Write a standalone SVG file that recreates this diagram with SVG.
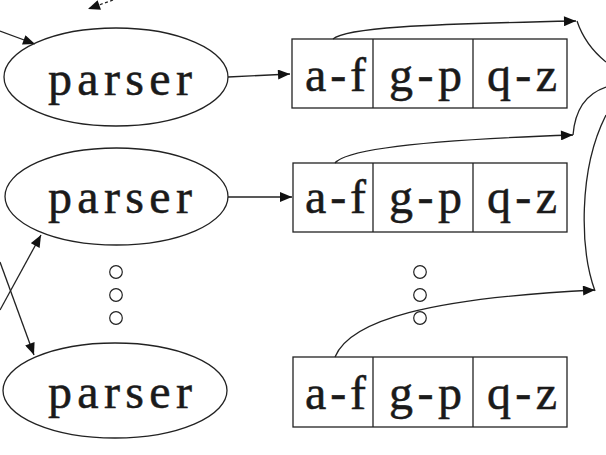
<svg xmlns="http://www.w3.org/2000/svg" width="606" height="455" viewBox="0 0 606 455">
<style>
.ln{fill:none;stroke:#222;stroke-width:1.3}
.sh{fill:none;stroke:#222;stroke-width:1.3}
.t{font-family:"Liberation Serif","Times New Roman",serif;font-size:48px;fill:#1a1a1a;stroke:#1a1a1a;stroke-width:0.5}
.dot{fill:#fff;stroke:#222;stroke-width:1.2}
</style>
<defs>
<marker id="ah" viewBox="0 0 12 10" refX="12" refY="5" markerWidth="13" markerHeight="10" markerUnits="userSpaceOnUse" orient="auto">
<path d="M0,0 L12,5 L0,10 z" fill="#111"/>
</marker>
</defs>
<g id="connectors">
<path class="ln" d="M0,31 L35,44" marker-end="url(#ah)"/>
<path class="ln" d="M113,0 L88,9" stroke-dasharray="3,2.5" marker-end="url(#ah)"/>
<path class="ln" d="M228,77 L290,74" marker-end="url(#ah)"/>
<path class="ln" d="M228,197 L292,197" marker-end="url(#ah)"/>
<path class="ln" d="M0,310 L41,235" marker-end="url(#ah)"/>
<path class="ln" d="M0,262 L34,355" marker-end="url(#ah)"/>
<path class="ln" d="M333,39 C345,28 420,24 576,21" marker-end="url(#ah)"/>
<path class="ln" d="M335,163 C345,150 420,140 573,135" marker-end="url(#ah)"/>
<path class="ln" d="M335,357 C350,320 430,298 595,290" marker-end="url(#ah)"/>
<path class="ln" d="M577,21 Q585,45 606,62"/>
<path class="ln" d="M573,135 Q576,97 606,87"/>
<path class="ln" d="M595,291 C580,250 578,170 606,115"/>
</g>
<g id="dots-left">
<circle class="dot" cx="116" cy="272" r="6.3"/>
<circle class="dot" cx="116" cy="295" r="6.3"/>
<circle class="dot" cx="116" cy="318" r="6.3"/>
</g>
<g id="dots-right">
<circle class="dot" cx="420" cy="272" r="6.3"/>
<circle class="dot" cx="420" cy="295" r="6.3"/>
<circle class="dot" cx="420" cy="318" r="6.3"/>
</g>
<g id="parser1">
<ellipse class="sh" cx="116" cy="77" rx="112" ry="49"/>
<text class="t" x="48" y="95" textLength="144" lengthAdjust="spacing">parser</text>
</g>
<g id="parser2">
<ellipse class="sh" cx="116.5" cy="196.5" rx="111.5" ry="48.5"/>
<text class="t" x="48" y="213" textLength="144" lengthAdjust="spacing">parser</text>
</g>
<g id="parser3">
<ellipse class="sh" cx="115" cy="390.5" rx="112" ry="47.5"/>
<text class="t" x="48" y="408" textLength="144" lengthAdjust="spacing">parser</text>
</g>
<g id="buckets1">
<rect class="sh" x="292" y="39" width="275" height="69"/>
<line class="ln" x1="373" y1="39" x2="373" y2="108"/>
<line class="ln" x1="473" y1="39" x2="473" y2="108"/>
<text class="t" x="305" y="91" textLength="61" lengthAdjust="spacing">a-f</text>
<text class="t" x="389" y="91" textLength="73" lengthAdjust="spacing">g-p</text>
<text class="t" x="487" y="91" textLength="70" lengthAdjust="spacing">q-z</text>
</g>
<g id="buckets2">
<rect class="sh" x="293" y="163" width="274" height="69"/>
<line class="ln" x1="373" y1="163" x2="373" y2="232"/>
<line class="ln" x1="473" y1="163" x2="473" y2="232"/>
<text class="t" x="305" y="213" textLength="61" lengthAdjust="spacing">a-f</text>
<text class="t" x="389" y="213" textLength="73" lengthAdjust="spacing">g-p</text>
<text class="t" x="487" y="213" textLength="70" lengthAdjust="spacing">q-z</text>
</g>
<g id="buckets3">
<rect class="sh" x="293" y="357" width="274" height="70"/>
<line class="ln" x1="373" y1="357" x2="373" y2="427"/>
<line class="ln" x1="473" y1="357" x2="473" y2="427"/>
<text class="t" x="305" y="409" textLength="61" lengthAdjust="spacing">a-f</text>
<text class="t" x="389" y="409" textLength="73" lengthAdjust="spacing">g-p</text>
<text class="t" x="487" y="409" textLength="70" lengthAdjust="spacing">q-z</text>
</g>
</svg>
